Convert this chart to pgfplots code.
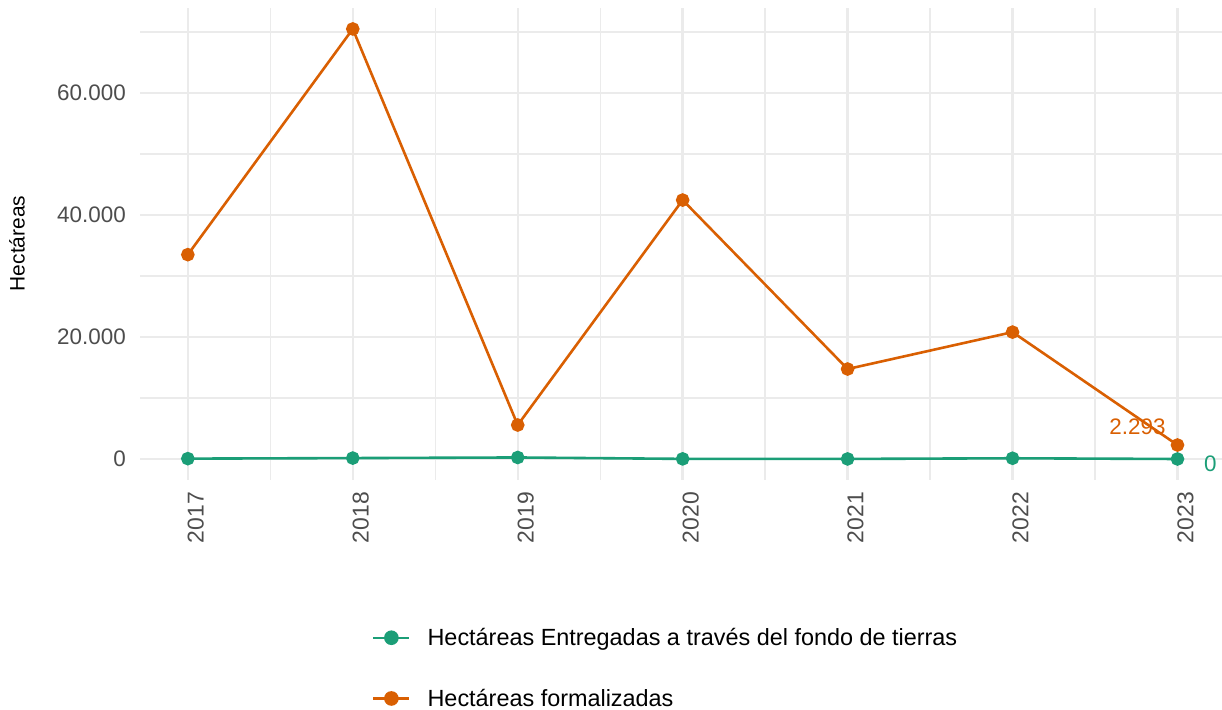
\documentclass[border=0pt]{standalone}
\usepackage{pgfplots}
\pgfplotsset{compat=1.18}
\usepackage{fontspec}
\setmainfont{Liberation Sans}
\definecolor{cgreen}{HTML}{1B9E77}
\definecolor{corange}{HTML}{D95F02}
\definecolor{cgrid}{HTML}{EBEBEB}
\definecolor{ctick}{HTML}{4D4D4D}
\begin{document}
\begin{tikzpicture}
\path[use as bounding box] (0,0) rectangle (1222bp,710bp);
\begin{axis}[
  at={(140bp,230bp)}, anchor=south west,
  scale only axis, width=1082bp, height=472bp,
  xmin=2016.71, xmax=2023.27,
  ymin=-3443, ymax=73934,
  axis line style={draw=none},
  major tick length=0pt, minor tick length=0pt,
  xtick={2017,2018,2019,2020,2021,2022,2023},
  xticklabels={2017,2018,2019,2020,2021,2022,2023},
  minor xtick={2017.5,2018.5,2019.5,2020.5,2021.5,2022.5},
  ytick={0,20000,40000,60000},
  yticklabels={0,20.000,40.000,60.000},
  minor ytick={10000,30000,50000,70000},
  grid=both,
  major grid style={cgrid, line width=2.4bp},
  minor grid style={cgrid, line width=1.3bp},
  xticklabel style={rotate=90, anchor=east, inner sep=0pt, xshift=-12bp, yshift=-8bp, text=ctick, font=\fontsize{23}{27}\selectfont},
  yticklabel style={anchor=east, inner sep=0pt, xshift=-14bp, text=ctick, font=\fontsize{22.5}{26}\selectfont},
  ylabel={Hectáreas},
  ylabel style={at={(axis description cs:-0.1137,0.501)}, anchor=center, font=\fontsize{21}{25}\selectfont},
  legend style={draw=none, fill=none, at={(axis description cs:0.2144,-0.3097)}, anchor=north west, font=\fontsize{23.5}{27}\selectfont, row sep=38bp, column sep=15bp, inner sep=0pt},
  legend cell align=left,
  legend image code/.code={\draw[#1, line width=2.4bp] (0bp,0bp) -- (36bp,0bp); \fill[#1] (18bp,0bp) circle (6bp);},
]
\addplot[cgreen, line width=2.6bp, mark=*, mark size=5.5bp] coordinates {
(2017,60) (2018,150) (2019,250) (2020,20) (2021,10) (2022,120) (2023,0)
} node[pos=1, anchor=center, xshift=33bp, yshift=-5bp, text=cgreen, font=\fontsize{22.5}{26}\selectfont] {0};
\addlegendentry{Hectáreas Entregadas a través del fondo de tierras}
\addplot[corange, line width=2.6bp, mark=*, mark size=5.5bp] coordinates {
(2017,33500) (2018,70500) (2019,5570) (2020,42450) (2021,14750) (2022,20800) (2023,2293)
} node[pos=1, anchor=center, xshift=-40bp, yshift=18bp, text=corange, font=\fontsize{22.5}{26}\selectfont] {2.293};
\addlegendentry{Hectáreas formalizadas}
\end{axis}
\end{tikzpicture}
\end{document}
